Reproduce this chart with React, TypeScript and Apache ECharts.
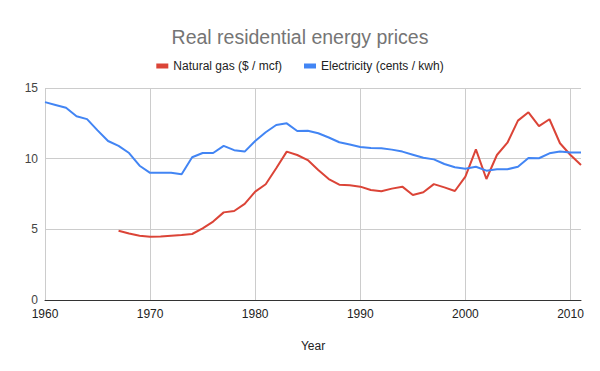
import React, { useEffect, useRef } from "react";
import * as echarts from "echarts";

const years: number[] = [];
for (let y = 1960; y <= 2011; y++) years.push(y);

const gasYears = [1967,1968,1969,1970,1971,1972,1973,1974,1975,1976,1977,1978,1979,1980,1981,1982,1983,1984,1985,1986,1987,1988,1989,1990,1991,1992,1993,1994,1995,1996,1997,1998,1999,2000,2001,2002,2003,2004,2005,2006,2007,2008,2009,2010,2011];
const gasValues = [4.9,4.7,4.55,4.48,4.5,4.55,4.6,4.67,5.07,5.55,6.2,6.3,6.8,7.67,8.19,9.32,10.5,10.26,9.9,9.2,8.56,8.16,8.12,8.02,7.78,7.69,7.88,8.02,7.43,7.62,8.2,7.97,7.71,8.73,10.66,8.56,10.26,11.13,12.69,13.28,12.3,12.79,11.09,10.26,9.55];

const elecYears = years;
const elecValues = [14.0,13.8,13.6,13.0,12.8,12.0,11.25,10.9,10.4,9.5,9.0,9.0,9.0,8.9,10.1,10.4,10.4,10.9,10.6,10.5,11.25,11.87,12.38,12.5,11.96,11.98,11.8,11.5,11.16,11.0,10.83,10.76,10.73,10.64,10.5,10.28,10.06,9.95,9.62,9.39,9.29,9.43,9.15,9.25,9.25,9.43,10.05,10.03,10.38,10.5,10.43,10.43];

const yTicks = [0, 5, 10, 15];

export default function App() {
  const ref = useRef<HTMLDivElement>(null);
  useEffect(() => {
    if (!ref.current) return;
    const chart = echarts.init(ref.current, null, { renderer: "svg" });
    const font = "Arial, 'Liberation Sans', sans-serif";
    chart.setOption({
      animation: false,
      textStyle: { fontFamily: font },
      title: {
        text: "Real residential energy prices",
        left: "center",
        top: 22,
        textStyle: { fontSize: 19.5, fontWeight: "normal", color: "#757575", fontFamily: font },
      },
      legend: {
        top: 55,
        left: "center",
        icon: "rect",
        itemWidth: 12,
        itemHeight: 5,
        itemGap: 22,
        textStyle: { fontSize: 12, color: "#222", fontFamily: font },
        data: ["Natural gas ($ / mcf)", "Electricity (cents / kwh)"],
      },
      grid: { left: 45, right: 19, top: 88, bottom: 71, containLabel: false },
      xAxis: {
        type: "value",
        min: 1960,
        max: 2011,
        interval: 10,
        name: "Year",
        nameLocation: "middle",
        nameGap: 40,
        nameTextStyle: { fontSize: 12, color: "#222", fontFamily: font },
        axisLine: { show: true, lineStyle: { color: "#333", width: 1 } },
        axisTick: { show: false },
        axisLabel: { color: "#222", fontSize: 12, margin: 8, showMaxLabel: false, formatter: (v: number) => String(v) },
        splitLine: { show: true, showMaxLine: false, lineStyle: { color: "#cccccc", width: 1 } },
      },
      yAxis: {
        type: "value",
        min: yTicks[0],
        max: yTicks[yTicks.length - 1],
        interval: 5,
        axisLine: { show: false },
        axisTick: { show: false },
        axisLabel: { color: "#444", fontSize: 12, margin: 7 },
        splitLine: { show: true, lineStyle: { color: "#cccccc", width: 1 } },
      },
      series: [
        {
          name: "Natural gas ($ / mcf)",
          type: "line",
          data: gasYears.map((y, i) => [y, gasValues[i]]),
          showSymbol: false,
          symbol: "none",
          lineStyle: { color: "#db4437", width: 2 },
          itemStyle: { color: "#db4437" },
        },
        {
          name: "Electricity (cents / kwh)",
          type: "line",
          data: elecYears.map((y, i) => [y, elecValues[i]]),
          showSymbol: false,
          symbol: "none",
          lineStyle: { color: "#4285f4", width: 2 },
          itemStyle: { color: "#4285f4" },
        },
      ],
    });
    return () => chart.dispose();
  }, []);
  return <div ref={ref} style={{ width: 600, height: 371, position: "absolute", left: 0, top: 0 }} />;
}
